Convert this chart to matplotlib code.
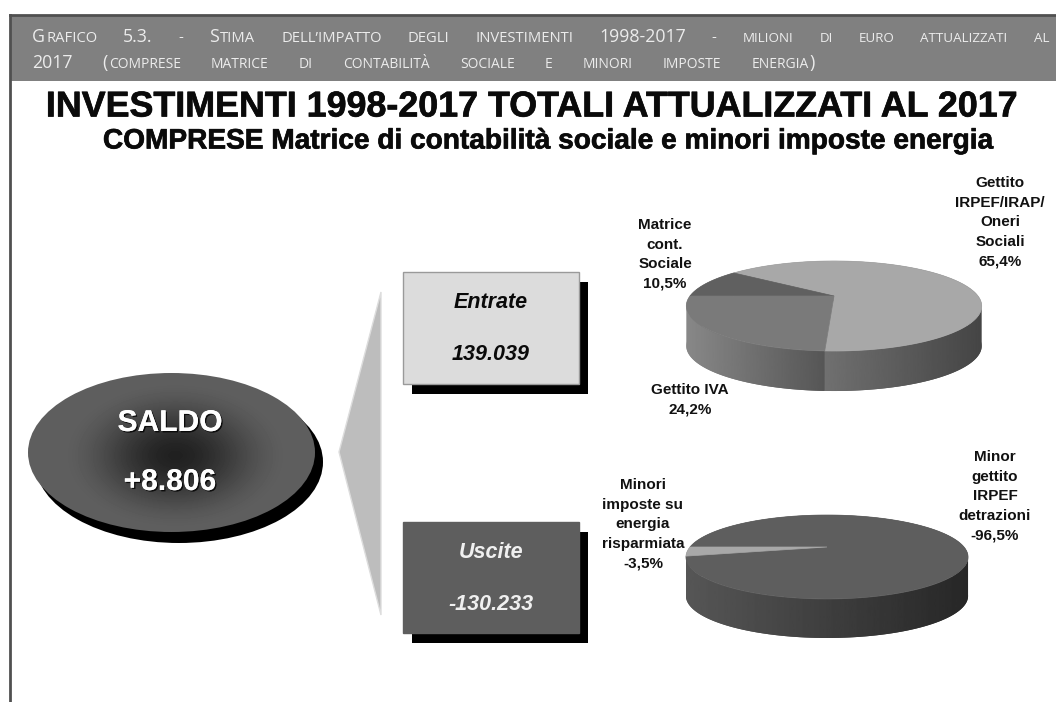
#!/usr/bin/python

import numpy as np
import matplotlib
matplotlib.use('Agg')
import matplotlib.pyplot as plt
from matplotlib.patches import Ellipse, Polygon, Rectangle
import matplotlib.patheffects as pe

BOLD = 'Liberation Sans'

# Data
entrate_labels = ['Gettito\nIRPEF/IRAP/\nOneri\nSociali\n65,4%', 'Matrice\ncont.\nSociale\n10,5%', 'Gettito IVA\n24,2%']
entrate_values = [65.4, 10.5, 24.2]
uscite_labels = ['Minor\ngettito\nIRPEF\ndetrazioni\n-96,5%', 'Minori\nimposte su\nenergia\nrisparmiata\n-3,5%']
uscite_values = [96.5, 3.5]
saldo_text = ['SALDO', '+8.806']
entrate_text = ['Entrate', '139.039']
uscite_text = ['Uscite', '-130.233']

header_1 = [("Grafico 5.3. - Stima dell\u2019impatto degli investimenti 1998-2017 - ", 10.6),
            ("milioni di euro attualizzati al", 9.6)]
header_2 = [("2017 (", 10.6), ("comprese matrice di contabilità sociale e minori imposte energia", 10.0), (")", 10.6)]
title_1 = 'INVESTIMENTI 1998-2017 TOTALI ATTUALIZZATI AL 2017'
title_2 = 'COMPRESE Matrice di contabilità sociale e minori imposte energia'

fig = plt.figure(figsize=(10.56, 7.02), dpi=100)
ax = fig.add_axes([0, 0, 1, 1])
ax.set_xlim(0, 1056)
ax.set_ylim(702, 0)
ax.axis('off')
ax.set_autoscale_on(False)

heavy = [pe.withStroke(linewidth=0.5, foreground='#111111')]


# Small caps heading: capitals and digits large, the rest upper-cased and small.
# Words are separate texts, the spare width goes between the words.
def draw_small_caps(parts, x, y, x_end):
    tokens = []
    glued = False
    for text, small in parts:
        for word in text.split(' '):
            if not word:
                continue
            first = not glued
            glued = False
            cur, cur_big = '', None
            for ch in word:
                big = ch.isupper() or ch.isdigit() or ch in '()'
                if ch in '.-\u2019' and cur_big is not None:
                    big = cur_big
                if big != cur_big and cur:
                    tokens.append((cur, 12.8 if cur_big else small, first))
                    first = False
                    cur = ''
                cur += ch
                cur_big = big
            tokens.append((cur, 12.8 if cur_big else small, first))
        glued = not text.endswith(' ')

    renderer = fig.canvas.get_renderer()
    items = []
    total = 0
    n_gaps = -1
    for text, size, starts_word in tokens:
        t = ax.text(x, y, text.upper(), fontsize=size, family='Open Sans', color='#ececec', va='baseline', ha='left')
        w = t.get_window_extent(renderer).width + 1
        items.append((t, w, starts_word))
        total += w
        n_gaps += 1 if starts_word else 0
    gap = (x_end - x - total) / max(n_gaps, 1)
    pos = x
    for i, (t, w, starts_word) in enumerate(items):
        if starts_word and i > 0:
            pos += gap
        t.set_x(pos)
        pos += w


def gradient_patch(poly_pts, x0, x1, c0, c1, zorder):
    v0, v1 = int(c0[1:3], 16) / 255, int(c1[1:3], 16) / 255
    grad = np.linspace(v0, v1, 256).reshape(1, -1)
    im = ax.imshow(grad, extent=[x0, x1, 702, 0], cmap='gray', vmin=0, vmax=1, aspect='auto', zorder=zorder)
    clip = Polygon(poly_pts, closed=True, transform=ax.transData, facecolor='none', edgecolor='none')
    ax.add_patch(clip)
    im.set_clip_path(clip)


# Tilted pie: the rim is a circle under perspective, so the centre is off the ellipse middle
def rim(theta, cx, cy, a, b, k):
    t = np.radians(theta)
    d = 1 + k * np.sin(t)
    return cx + a * np.cos(t) / d, cy - b * np.sin(t) / d


def draw_pie(values, start, top_colors, side_colors, cx, cy, a, b, k, depth):
    angles = start + np.concatenate([[0], np.cumsum(values)]) / np.sum(values) * 360
    th = np.linspace(0, 360, 1441)
    rx = rim(th, cx, cy, a, b, k)[0]
    th_left, th_right = th[np.argmin(rx)], th[np.argmax(rx)]
    front_lo, front_hi = th_left, th_right + 360
    for i in range(len(values)):
        lo, hi = angles[i], angles[i + 1]
        t = np.linspace(lo, hi, 200)
        x, y = rim(t, cx, cy, a, b, k)
        ax.add_patch(Polygon(np.column_stack([np.r_[cx, x], np.r_[cy, y]]), closed=True,
                             facecolor=top_colors[i], edgecolor=top_colors[i], linewidth=0.5, zorder=4))
        # visible side wall of this slice
        for shift in (0, 360, -360):
            s0, s1 = max(lo + shift, front_lo), min(hi + shift, front_hi)
            if s1 > s0:
                t = np.linspace(s0, s1, 200)
                x, y = rim(t, cx, cy, a, b, k)
                pts = np.column_stack([np.r_[x, x[::-1]], np.r_[y, y[::-1] + depth]])
                gradient_patch(pts, x.min(), x.max(), side_colors[i][0], side_colors[i][1], 3)


# Frame and header band
ax.add_patch(Rectangle((10, 15), 1046, 66, facecolor='#808080', edgecolor='none'))
ax.plot([10, 1056], [15, 15], color='#505050', lw=2)
ax.plot([10, 10], [15, 702], color='#505050', lw=2)
draw_small_caps(header_1, 32, 41.5, 1050)
draw_small_caps(header_2, 32, 68, 816)

# Titles
ax.text(532, 107, title_1, fontsize=25.8, family=BOLD, weight='bold', ha='center', va='center', color='#0a0a0a',
        path_effects=heavy)
ax.text(548, 141.5, title_2, fontsize=20.2, family=BOLD, weight='bold', ha='center', va='center', color='#0a0a0a',
        path_effects=heavy)

# Saldo ellipse with radial shading
ax.add_patch(Ellipse((179, 462), 288, 162, facecolor='black', edgecolor='none', zorder=1))
yy, xx = np.mgrid[370:536, 25:320]
rr = np.clip(np.sqrt(((xx - 175) / 115.0) ** 2 + ((yy - 455) / 75.0) ** 2), 0, 1)
shade = 0.13 + (0.37 - 0.13) * (3 * rr ** 2 - 2 * rr ** 3)
im = ax.imshow(shade, extent=[25, 320, 536, 370], cmap='gray', vmin=0, vmax=1, aspect='auto', zorder=2)
clip = Ellipse((171.5, 452.5), 287, 159, transform=ax.transData, facecolor='none', edgecolor='none')
ax.add_patch(clip)
im.set_clip_path(clip)
emboss = [pe.withSimplePatchShadow(offset=(1, -1), shadow_rgbFace='black', alpha=0.8), pe.Normal()]
for txt, ty in zip(saldo_text, [423, 482]):
    ax.text(170, ty, txt, fontsize=21.6, family=BOLD, weight='bold', color='white', ha='center', va='center',
            zorder=6, path_effects=emboss)

# Wedge joining saldo to the two boxes
ax.add_patch(Polygon([(339, 452), (381, 292), (381, 615)], closed=True, facecolor='#bdbdbd',
                     edgecolor='#dddddd', linewidth=1))

# Entrate / Uscite boxes
for y0, y1, face, edge, fg, lines in [(272, 384, '#dcdcdc', '#9a9a9a', '#0a0a0a', entrate_text),
                                      (522, 633, '#5e5e5e', '#5e5e5e', '#f0f0f0', uscite_text)]:
    ax.add_patch(Rectangle((412, y0 + 10), 176, y1 - y0, facecolor='black', edgecolor='none', zorder=1))
    ax.add_patch(Rectangle((403, y0), 176, y1 - y0, facecolor=face, edgecolor=edge, linewidth=1, zorder=2))
    ax.text(491, y0 + 31, lines[0], fontsize=15.5, family=BOLD, style='italic', weight='bold',
            color=fg, ha='center', va='center', zorder=3)
    ax.text(491, y0 + 82, lines[1], fontsize=15.5, family=BOLD, style='italic', weight='bold',
            color=fg, ha='center', va='center', zorder=3)

# Pies
draw_pie(entrate_values, 267.12, ['#a8a8a8', '#606060', '#7a7a7a'],
         [('#707070', '#454545'), ('#888888', '#888888'), ('#888888', '#565656')],
         834, 296, 144, 42.8, 0.222, 40)
draw_pie(uscite_values, 192.6, ['#5e5e5e', '#a8a8a8'],
         [('#565656', '#272727'), ('#565656', '#565656')],
         827, 547, 137, 39.6, 0.238, 39)

# Pie labels
label_x = [1000, 665, 690]
label_top = [183, 225, 390]
for txt, lx, ly in zip(entrate_labels, label_x, label_top):
    for n, line in enumerate(txt.split('\n')):
        ax.text(lx, ly + n * 19.6, line, fontsize=11, family=BOLD, weight='bold', color='#111111', ha='center', va='center')
label_x = [995, 643]
label_top = [457, 485]
for txt, lx, ly in zip(uscite_labels, label_x, label_top):
    for n, line in enumerate(txt.split('\n')):
        ax.text(lx, ly + n * 19.6, line, fontsize=11, family=BOLD, weight='bold', color='#111111', ha='center', va='center')

fig.savefig('out.png', dpi=100)
